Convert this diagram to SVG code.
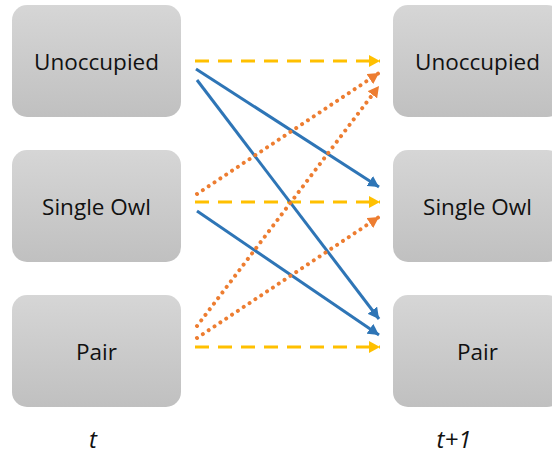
<svg xmlns="http://www.w3.org/2000/svg" width="552" height="455" viewBox="0 0 552 455">
<style>
.box{fill:url(#g);}
.lbl{font-family:"Open Sans","Liberation Sans",sans-serif;font-size:22.5px;fill:#111;text-anchor:middle;dominant-baseline:central;}
.time{font-family:"Open Sans","Liberation Sans",sans-serif;font-size:24px;font-style:italic;fill:#111;text-anchor:middle;}
.y{stroke:#FFC000;stroke-width:3;stroke-dasharray:14 9;fill:none;marker-end:url(#ay);}
.b{stroke:#2E75B6;stroke-width:3;fill:none;marker-end:url(#ab);}
.o{stroke:#ED7D31;stroke-width:4;stroke-dasharray:0.01 7;stroke-linecap:round;fill:none;marker-end:url(#ao);}
</style>
<defs>
<linearGradient id="g" x1="0" y1="0" x2="0" y2="1">
<stop offset="0" stop-color="#d6d6d6"/>
<stop offset="1" stop-color="#c0c0c0"/>
</linearGradient>
<marker id="ay" markerUnits="userSpaceOnUse" markerWidth="12" markerHeight="12" refX="11" refY="6" orient="auto"><path d="M0,0 L11,6 L0,12 Z" fill="#FFC000"/></marker>
<marker id="ab" markerUnits="userSpaceOnUse" markerWidth="12" markerHeight="12" refX="11" refY="6" orient="auto"><path d="M0,0 L11,6 L0,12 Z" fill="#2E75B6"/></marker>
<marker id="ao" markerUnits="userSpaceOnUse" markerWidth="12" markerHeight="12" refX="11" refY="6" orient="auto"><path d="M0,0 L11,6 L0,12 Z" fill="#ED7D31"/></marker>
</defs>
<rect width="552" height="455" fill="#fff"/>
<g id="connectors">
<line class="y" x1="195" y1="61" x2="380" y2="61"/>
<line class="y" x1="195" y1="202" x2="380" y2="202"/>
<line class="y" x1="195" y1="347" x2="380" y2="347"/>
<line class="b" x1="196" y1="69" x2="379" y2="187"/>
<line class="b" x1="197" y1="80" x2="379" y2="319"/>
<line class="b" x1="197" y1="211" x2="379" y2="335"/>
<line class="o" x1="197" y1="194" x2="379" y2="73"/>
<line class="o" x1="197" y1="326" x2="379" y2="86"/>
<line class="o" x1="197" y1="338" x2="379" y2="217"/>
</g>
<g id="l-unoccupied"><rect class="box" x="12" y="5" width="169" height="112" rx="15"/><text class="lbl" x="96.5" y="61">Unoccupied</text></g>
<g id="l-single"><rect class="box" x="12" y="150" width="169" height="112" rx="15"/><text class="lbl" x="96.5" y="206">Single Owl</text></g>
<g id="l-pair"><rect class="box" x="12" y="295" width="169" height="112" rx="15"/><text class="lbl" x="96.5" y="351">Pair</text></g>
<g id="r-unoccupied"><rect class="box" x="393" y="5" width="169" height="112" rx="15"/><text class="lbl" x="477.5" y="61">Unoccupied</text></g>
<g id="r-single"><rect class="box" x="393" y="150" width="169" height="112" rx="15"/><text class="lbl" x="477.5" y="206">Single Owl</text></g>
<g id="r-pair"><rect class="box" x="393" y="295" width="169" height="112" rx="15"/><text class="lbl" x="477.5" y="351">Pair</text></g>
<g id="t-labels">
<text class="time" x="93" y="448">t</text>
<text class="time" x="454" y="448">t+1</text>
</g>
</svg>
